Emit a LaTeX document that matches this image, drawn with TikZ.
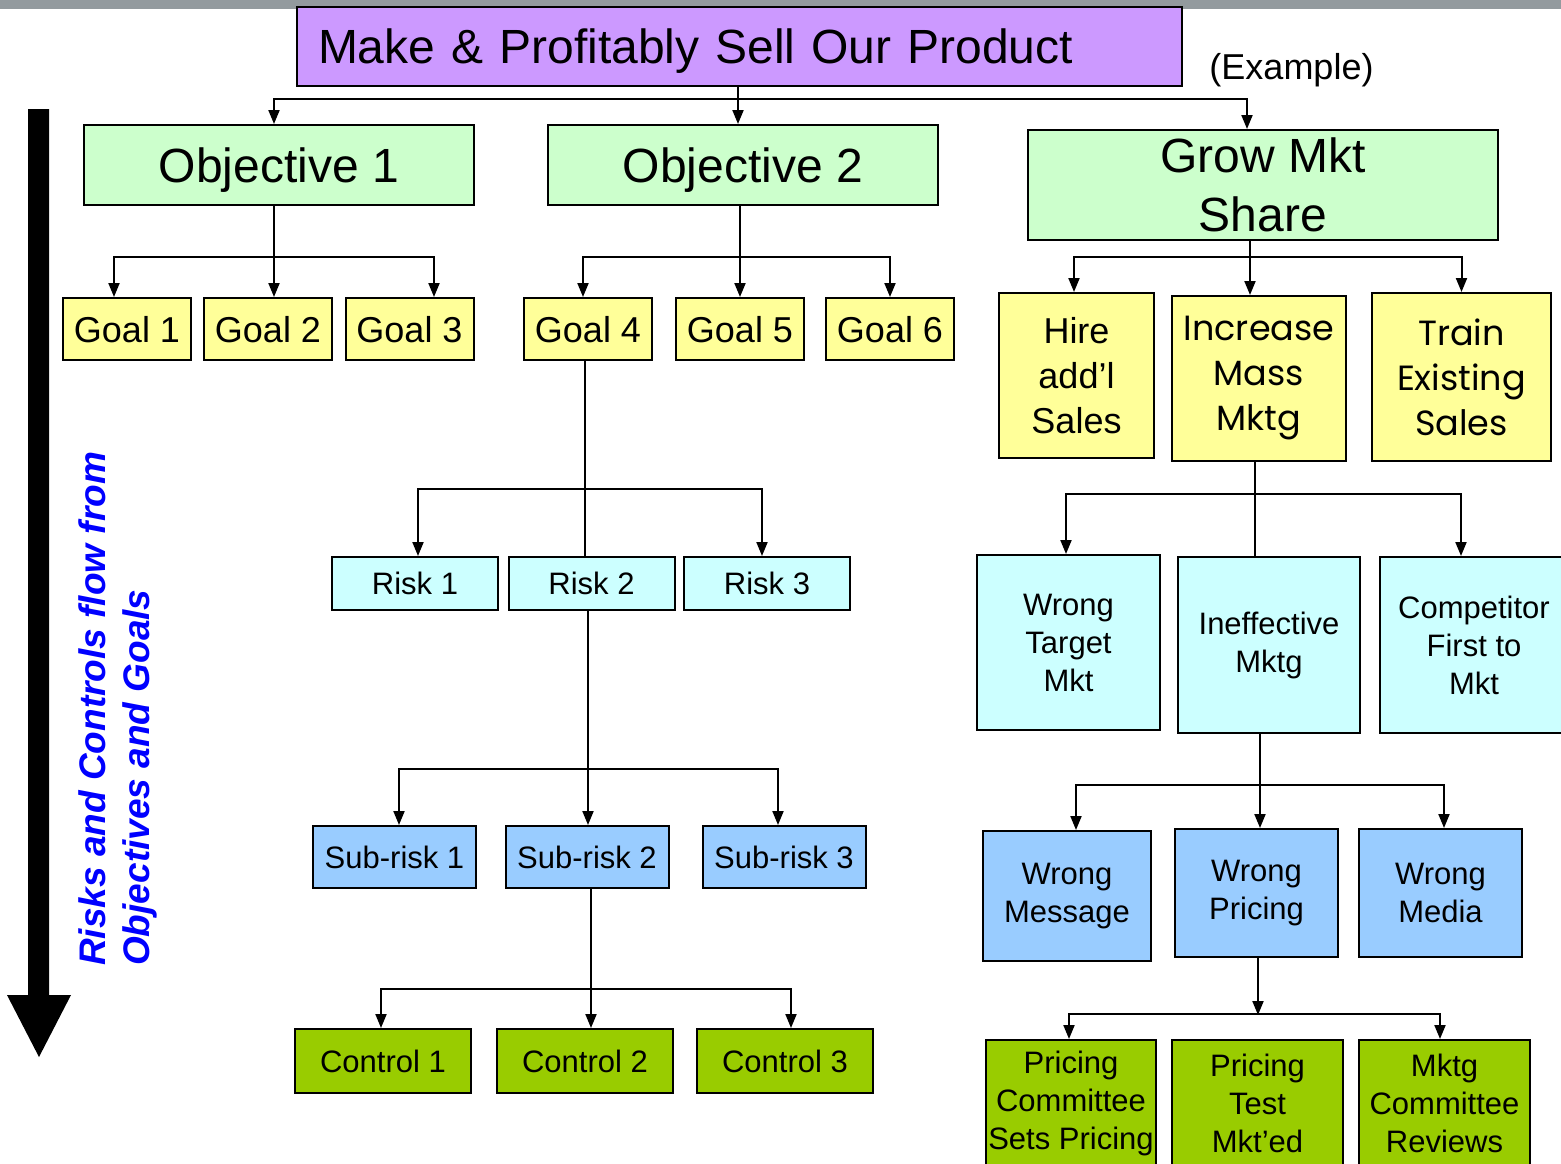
\documentclass[tikz,border=0pt]{standalone}
\usepackage{fontspec}
\setmainfont{Liberation Sans}
\newfontfamily\gothicfont{Poppins}
\usetikzlibrary{arrows.meta}
\definecolor{topgray}{RGB}{147,154,158}
\definecolor{titlepurple}{HTML}{CC99FF}
\definecolor{objgreen}{HTML}{CCFFCC}
\definecolor{goalyellow}{HTML}{FFFF99}
\definecolor{riskcyan}{HTML}{CCFFFF}
\definecolor{subblue}{HTML}{99CCFF}
\definecolor{ctrlgreen}{HTML}{99CC00}
\newcommand{\bigsize}{\fontsize{48}{59}\selectfont}
\newcommand{\midsize}{\fontsize{36}{45}\selectfont}
\newcommand{\lowsize}{\fontsize{31}{38}\selectfont}

\begin{document}
\begin{tikzpicture}[line cap=round,>={Triangle[width=11pt,length=14pt]},x=1pt,y=-1pt,
  box/.style={draw=black,line width=2pt,inner sep=2pt,align=center},
  objbox/.style={box,fill=objgreen,font=\bigsize},
  goalbox/.style={box,fill=goalyellow,font=\midsize,minimum width=128pt,minimum height=62pt,text height=26pt,text depth=0pt},
  riskbox/.style={box,fill=riskcyan,font=\lowsize},
  subbox/.style={box,fill=subblue,font=\lowsize},
  ctrlbox/.style={box,fill=ctrlgreen,font=\lowsize},
  oneline/.style={text height=22.5pt,text depth=0pt},
  link/.style={line width=2pt,color=black}]
\useasboundingbox (0,0) rectangle (1561,1163);
\fill[topgray] (0,0) rectangle (1561,9);
% top of the tree
\node[box,fill=titlepurple,font=\bigsize,minimum width=885pt,minimum height=79pt,text width=843pt,inner xsep=21pt,align=left,text height=34.5pt,text depth=0pt] (title) at (739.5,46.5) {Make \& Profitably Sell Our Product};
\node[font=\midsize] (example) at (1291.5,70) {(Example)};
\node[objbox,minimum width=390pt,minimum height=80pt,text height=34.5pt,text depth=0pt] (obj1) at (279,165) {Objective 1};
\node[objbox,minimum width=390pt,minimum height=80pt,text height=34.5pt,text depth=0pt] (obj2) at (743,165) {Objective 2};
\node[objbox,minimum width=470pt,minimum height=110pt] (grow) at (1263,185) {Grow Mkt\\Share};
% goals
\foreach \i/\x in {1/127,2/268,3/409.5,4/588,5/740,6/890}
\node[goalbox] (goal\i) at (\x,329) {Goal \i};
\node[box,fill=goalyellow,font=\midsize,minimum width=155pt,minimum height=165pt] (hire) at (1076.5,375.5) {Hire\\add’l\\Sales};
\node[box,fill=goalyellow,font=\fontsize{35}{45}\selectfont\gothicfont,minimum width=174pt,minimum height=165pt] (increase) at (1259,378.5) {Increase\\Mass\\Mktg};
\node[box,fill=goalyellow,font=\fontsize{35}{45}\selectfont\gothicfont,minimum width=179pt,minimum height=168pt] (train) at (1461.5,377) {Train\\Existing\\Sales};
% risks
\foreach \i/\x in {1/415,2/591.5,3/767}
\node[riskbox,oneline,minimum width=166pt,minimum height=53pt] (risk\i) at (\x,583.5) {Risk \i};
\node[riskbox,minimum width=183pt,minimum height=175pt] (target) at (1068.5,642.5) {Wrong\\Target\\Mkt};
\node[riskbox,minimum width=182pt,minimum height=176pt] (ineff) at (1269,645) {Ineffective\\Mktg};
\node[riskbox,minimum width=188pt,minimum height=176pt] (competitor) at (1474,645) {Competitor\\First to\\Mkt};
% sub-risks
\foreach \i/\x in {1/394.5,2/587,3/784}
\node[subbox,oneline,minimum width=163pt,minimum height=62pt] (subrisk\i) at (\x,857) {Sub-risk \i};
\node[subbox,minimum width=168pt,minimum height=130pt] (wmsg) at (1067,896) {Wrong\\Message};
\node[subbox,minimum width=163pt,minimum height=128pt] (wpricing) at (1256.5,893) {Wrong\\Pricing};
\node[subbox,minimum width=163pt,minimum height=128pt] (wmedia) at (1440.5,893) {Wrong\\Media};
% controls
\foreach \i/\x in {1/383,2/585,3/785}
\node[ctrlbox,oneline,minimum width=176pt,minimum height=64pt] (control\i) at (\x,1061) {Control \i};
\node[ctrlbox,minimum width=170pt,minimum height=126pt] (pcsp) at (1071,1103) {Pricing\\Committee\\Sets Pricing};
\node[ctrlbox,minimum width=171pt,minimum height=126pt] (ptm) at (1257.5,1103) {Pricing\\Test\\Mkt’ed};
\node[ctrlbox,minimum width=171pt,minimum height=126pt] (mcr) at (1444.5,1103) {Mktg\\Committee\\Reviews};
% connectors
\draw[link,->] ([xshift=-1.5pt]title.south) -- ([xshift=-1.5pt]title.south |- obj2.north);
\draw[link,<->] ([xshift=-5pt]obj1.north) -- ++(0,-25) -| ([xshift=-16pt]grow.north);
\draw[link,->] ([xshift=-5pt]obj1.south) -- ([xshift=-5pt]obj1.south |- goal2.north);
\draw[link,<->] ([xshift=-13pt]goal1.north) -- ++(0,-40) -| ([xshift=24.5pt]goal3.north);
\draw[link,->] ([xshift=-3pt]obj2.south) -- ([xshift=-3pt]obj2.south |- goal5.north);
\draw[link,<->] ([xshift=-5pt]goal4.north) -- ++(0,-40) -| (goal6.north);
\draw[link,->] ([xshift=-13pt]grow.south) -- ([xshift=-13pt]grow.south |- increase.north);
\draw[link,<->] ([xshift=-2.5pt]hire.north) -- ++(0,-35) -| (train.north);
% risk side
\draw[link] ([xshift=-3pt]goal4.south) -- ([xshift=-3pt]goal4.south |- risk2.north);
\draw[link,<->] ([xshift=3pt]risk1.north) -- ++(0,-67) -| ([xshift=-5pt]risk3.north);
\draw[link,->] ([xshift=-3.5pt]risk2.south) -- ([xshift=-3.5pt]risk2.south |- subrisk2.north);
\draw[link,<->] ([xshift=4.5pt]subrisk1.north) -- ++(0,-56) -| ([xshift=-6pt]subrisk3.north);
\draw[link,->] ([xshift=4pt]subrisk2.south) -- ([xshift=4pt]subrisk2.south |- control2.north);
\draw[link,<->] ([xshift=-2pt]control1.north) -- ++(0,-39) -| ([xshift=6pt]control3.north);
\draw[link] ([xshift=-4pt]increase.south) -- ([xshift=-4pt]increase.south |- ineff.north);
\draw[link,<->] ([xshift=-2.5pt]target.north) -- ++(0,-60) -| ([xshift=-13pt]competitor.north);
\draw[link,->] ([xshift=-9pt]ineff.south) -- ([xshift=-9pt]ineff.south |- wpricing.north);
\draw[link,<->] ([xshift=9pt]wmsg.north) -- ++(0,-45) -| ([xshift=3.5pt]wmedia.north);
\draw[link,->] ([xshift=1.5pt]wpricing.south) -- ++(0,57);
\draw[link,<->] ([xshift=-2pt]pcsp.north) -- ++(0,-25) -| ([xshift=-4.5pt]mcr.north);
% flow arrow and its text
\fill[black] (28,109) -- (49,109) -- (49,995) -- (71,995) -- (39,1057) -- (7,995) -- (28,995) -- cycle;
\node[rotate=90,anchor=north west,inner sep=0pt,align=left,text=blue,font=\fontsize{37}{44}\selectfont\bfseries\itshape] (flowtext) at (78,966) {Risks and Controls flow from\\Objectives and Goals};
\end{tikzpicture}
\end{document}
